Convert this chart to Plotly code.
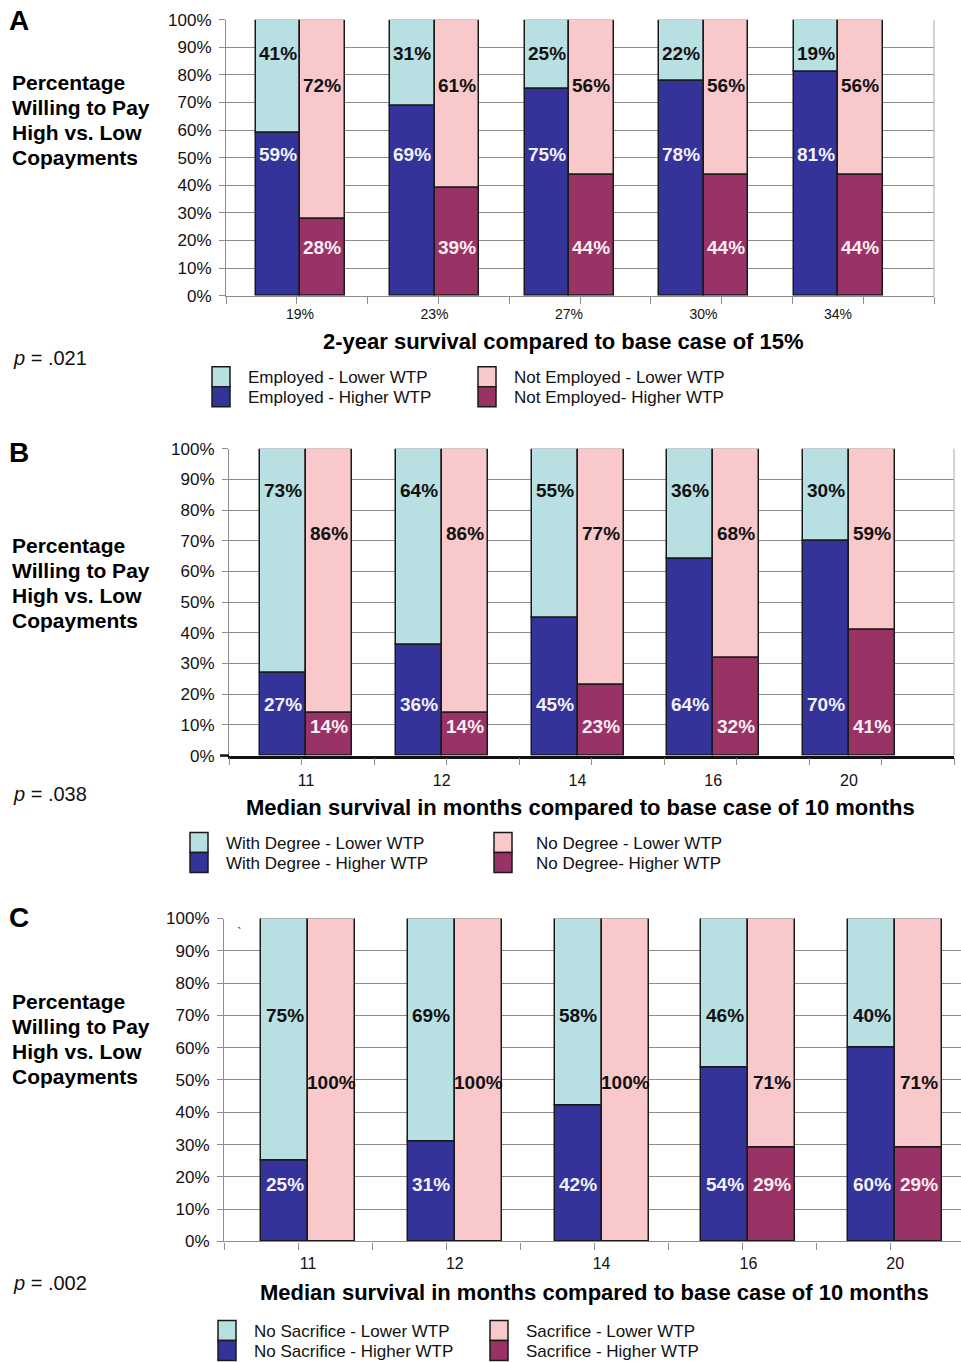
import plotly.graph_objects as go

W, H = 961, 1362

# ---------------- data ----------------
categories_a = ["19%", "23%", "27%", "30%", "34%"]
employed_higher = [59, 69, 75, 78, 81]
employed_lower = [41, 31, 25, 22, 19]
not_employed_higher = [28, 39, 44, 44, 44]
not_employed_lower = [72, 61, 56, 56, 56]

categories_b = ["11", "12", "14", "16", "20"]
degree_higher = [27, 36, 45, 64, 70]
degree_lower = [73, 64, 55, 36, 30]
no_degree_higher = [14, 14, 23, 32, 41]
no_degree_lower = [86, 86, 77, 68, 59]

categories_c = ["11", "12", "14", "16", "20"]
no_sacrifice_higher = [25, 31, 42, 54, 60]
no_sacrifice_lower = [75, 69, 58, 46, 40]
sacrifice_higher = [0, 0, 0, 29, 29]
sacrifice_lower = [100, 100, 100, 71, 71]

y_ticks = [0, 10, 20, 30, 40, 50, 60, 70, 80, 90, 100]

# ---------------- styles ----------------
C_LIGHT1 = "#B8DFE2"   # light teal
C_DARK1 = "#333399"    # dark blue
C_LIGHT2 = "#F8C8CB"   # light pink
C_DARK2 = "#993366"    # maroon
GRID = "#8C8C8C"
FONT = "Liberation Sans, Arial, sans-serif"

# page-pixel -> paper coordinates (vertical placement calibrated for the page)
Y_OFF, Y_SCALE = 8.26, 0.9863


def px(x):
    return x / W


def py(y):
    return 1 - ((y - Y_OFF) / Y_SCALE) / H


panels = [
    dict(letter="A", cats=categories_a, cat_size=14, cat_standoff=5,
         left=(employed_higher, employed_lower),
         right=(not_employed_higher, not_employed_lower),
         x0=226, x1=934, top=19, bottom=295,
         first=74, step=134.5, bar_w=44.5, tick_step=70.8,
         lab_y=(51, 87.7, 17.4, 76), xline="#8C8C8C", xline_w=1.2,
         border=True, title="2-year survival compared to base case of 15%",
         title_x=563, title_y=341, p_text=".021", p_y=357, side_y=82, letter_y=20,
         legend=(("Employed - Lower WTP", "Employed - Higher WTP"),
                 ("Not Employed - Lower WTP", "Not Employed- Higher WTP")),
         leg_x=(212, 478), leg_text_x=(246, 512), leg_y=366),
    dict(letter="B", cats=categories_b, cat_size=16, cat_standoff=8,
         left=(degree_higher, degree_lower),
         right=(no_degree_higher, no_degree_lower),
         x0=229, x1=954, top=448, bottom=755,
         first=77, step=135.75, bar_w=46, tick_step=72.5,
         lab_y=(16.6, 86.5, 9.6, 72.3), xline="#111111", xline_w=2.5,
         border=True, title="Median survival in months compared to base case of 10 months",
         title_x=580, title_y=807, p_text=".038", p_y=793, side_y=545, letter_y=452,
         legend=(("With Degree - Lower WTP", "With Degree - Higher WTP"),
                 ("No Degree - Lower WTP", "No Degree- Higher WTP")),
         leg_x=(190, 494), leg_text_x=(224, 534), leg_y=832),
    dict(letter="C", cats=categories_c, cat_size=16, cat_standoff=7,
         left=(no_sacrifice_higher, no_sacrifice_lower),
         right=(sacrifice_higher, sacrifice_lower),
         x0=224, x1=961, top=918, bottom=1241,
         first=84, step=146.8, bar_w=47, tick_step=74,
         lab_y=(17.6, 70, 17.6, 49.3), xline="#8C8C8C", xline_w=1.2,
         border=False, title="Median survival in months compared to base case of 10 months",
         title_x=594, title_y=1292, p_text=".002", p_y=1283, side_y=1001, letter_y=917,
         legend=(("No Sacrifice - Lower WTP", "No Sacrifice - Higher WTP"),
                 ("Sacrifice - Lower WTP", "Sacrifice - Higher WTP")),
         leg_x=(218, 490), leg_text_x=(252, 524), leg_y=1320),
]

fig = go.Figure()
annotations = []
shapes = []


def paper_text(x, y, text, size, bold=False, color="#000000", xanchor="left"):
    annotations.append(dict(
        x=px(x), y=py(y), xref="paper", yref="paper", xanchor=xanchor, yanchor="middle",
        text=text, showarrow=False,
        font=dict(family=FONT, size=size, color=color, weight="bold" if bold else "normal")))


for n, p in enumerate(panels, start=1):
    xa = "x" if n == 1 else f"x{n}"
    ya = "y" if n == 1 else f"y{n}"
    span = p["x1"] - p["x0"]
    centers = [p["first"] + i * p["step"] for i in range(len(p["cats"]))]
    bw = p["bar_w"]
    left_x = [c - bw / 2 for c in centers]
    right_x = [c + bw / 2 for c in centers]

    (lh, ll), (rh, rl) = p["left"], p["right"]
    series = [
        (left_x, lh, [0] * len(lh), C_DARK1),
        (left_x, ll, lh, C_LIGHT1),
        (right_x, rh, [0] * len(rh), C_DARK2),
        (right_x, rl, rh, C_LIGHT2),
    ]
    for xs, vals, base, col in series:
        fig.add_trace(go.Bar(
            x=xs, y=vals, base=base, width=bw, xaxis=xa, yaxis=ya,
            marker=dict(color=col, line=dict(color="#1A1A1A", width=1.5)),
            showlegend=False, hoverinfo="skip"))

    # value labels
    ly_dh, ly_ll, ly_rh, ly_rl = p["lab_y"]
    label_sets = [
        (left_x, lh, ly_dh, "#F2F0FA"),
        (left_x, ll, ly_ll, "#111111"),
        (right_x, rh, ly_rh, "#FAEEF3"),
        (right_x, rl, ly_rl, "#111111"),
    ]
    for xs, vals, ly, tc in label_sets:
        for xv, v in zip(xs, vals):
            if v <= 0:
                continue
            annotations.append(dict(
                x=xv, y=ly, xref=xa, yref=ya, xanchor="center", yanchor="middle",
                text=f"{v}%", showarrow=False,
                font=dict(family=FONT, size=19, color=tc, weight="bold")))

    n_ticks = int(span / p["tick_step"]) + 1
    axis_x = dict(
        domain=[px(p["x0"]), px(p["x1"])], range=[0, span], anchor=ya,
        showgrid=False, zeroline=False,
        showline=True, linecolor=p["xline"], linewidth=p["xline_w"],
        tickmode="array", tickvals=centers, ticktext=p["cats"], ticks="",
        ticklabelstandoff=p["cat_standoff"],
        tickfont=dict(family=FONT, size=p["cat_size"], color="#111111"),
        minor=dict(tickmode="array",
                   tickvals=[k * p["tick_step"] for k in range(n_ticks + 1)],
                   ticks="outside", ticklen=7, tickwidth=1, tickcolor="#8C8C8C",
                   showgrid=False),
    )
    axis_y = dict(
        domain=[py(p["bottom"]), py(p["top"])], range=[0, 100], anchor=xa,
        tickmode="array", tickvals=y_ticks, ticktext=[f"{t}%" for t in y_ticks],
        ticks="outside", ticklen=6, tickcolor="#8C8C8C", ticklabelstandoff=4,
        showgrid=True, gridcolor=GRID, gridwidth=1.2,
        showline=True, linecolor="#8C8C8C", linewidth=1.2, zeroline=False,
        tickfont=dict(family=FONT, size=17, color="#111111"),
    )
    fig.update_layout(**{("xaxis" if n == 1 else f"xaxis{n}"): axis_x,
                         ("yaxis" if n == 1 else f"yaxis{n}"): axis_y})

    if p["border"]:
        shapes.append(dict(type="line", xref="paper", yref="paper",
                           x0=px(p["x1"]), x1=px(p["x1"]),
                           y0=py(p["bottom"]), y1=py(p["top"]),
                           line=dict(color="#A9B8C0", width=1.2)))
    if p["xline_w"] > 2:
        # heavy baseline continues through the 0% tick
        shapes.append(dict(type="line", xref="paper", yref="paper",
                           x0=px(p["x0"] - 9), x1=px(p["x0"]),
                           y0=py(p["bottom"]), y1=py(p["bottom"]),
                           line=dict(color=p["xline"], width=p["xline_w"])))

    # panel letter
    paper_text(7, p["letter_y"], p["letter"], 28, bold=True)
    # side title, one line at a time
    for k, line in enumerate(["Percentage", "Willing to Pay", "High vs. Low", "Copayments"]):
        paper_text(10, p["side_y"] + 25 * k, line, 21, bold=True)
    # x axis title
    paper_text(p["title_x"], p["title_y"], p["title"], 22, bold=True, xanchor="center")
    # p value
    paper_text(11, p["p_y"], "<i>p</i> = " + p["p_text"], 20, color="#111111")
    # legend blocks
    for (lx, tx, names, cols) in [
        (p["leg_x"][0], p["leg_text_x"][0], p["legend"][0], (C_LIGHT1, C_DARK1)),
        (p["leg_x"][1], p["leg_text_x"][1], p["legend"][1], (C_LIGHT2, C_DARK2)),
    ]:
        for k in range(2):
            y0 = p["leg_y"] + k * 20
            shapes.append(dict(type="rect", xref="paper", yref="paper",
                               x0=px(lx), x1=px(lx + 18), y0=py(y0 + 20), y1=py(y0),
                               fillcolor=cols[k], line=dict(color="#1A1A1A", width=1.5)))
            paper_text(tx, y0 + 11, names[k], 17, color="#111111")

# small stray tick mark near the top of panel C
paper_text(235, 932, "`", 14, color="#333333")

fig.update_layout(
    width=W, height=H, autosize=False, margin=dict(l=0, r=0, t=0, b=0),
    paper_bgcolor="white", plot_bgcolor="white",
    barmode="overlay", bargap=0,
    annotations=annotations, shapes=shapes,
    font=dict(family=FONT),
)

fig.write_html("out.html", config={"responsive": False})
